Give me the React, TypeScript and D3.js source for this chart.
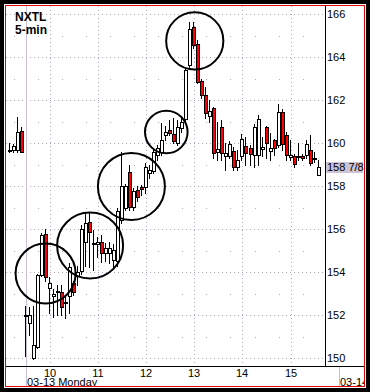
import { useEffect, useRef } from "react"
import * as d3 from "d3"

// 5-minute bars, slot 0 = 03-13 09:30, negative slots = previous session
const firstSlot = -4

const opens = [
  159.67, 159.67, 159.67, 160.56,
  152.0, 151.63, 150.0, 150.51, 153.86, 155.77, 153.26, 152.9, 153.05, 153.07,
  152.62, 152.9, 153.5, 153.81, 154.05, 155.4, 156.34, 155.3, 155.29, 155.41,
  154.9, 154.87, 154.56, 154.5, 156.4, 157.0, 158.67, 157.02, 157.8, 157.97,
  157.97, 158.59, 158.71, 159.44, 159.6, 160.37, 160.6, 160.42, 159.98, 160.7,
  161.12, 163.63, 165.41, 164.59, 162.88, 162.23, 161.27, 161.61, 159.6, 160.76,
  159.4, 159.4, 159.64, 158.87, 159.4, 159.85, 159.75, 159.44, 159.44, 159.7,
  160.73, 159.64, 160.14, 159.9, 161.46, 160.37, 159.36, 159.4, 159.34, 159.4,
  159.44, 159.67, 159.28, 158.51,
]
const highs = [
  159.98, 159.95, 161.2, 160.76,
  152.4, 152.35, 152.4, 153.9, 155.8, 156.0, 153.77, 153.2, 153.4, 153.4,
  152.83, 154.42, 153.6, 154.3, 156.2, 156.8, 156.76, 155.95, 155.64, 155.72,
  155.35, 155.4, 155.3, 157.0, 159.6, 158.1, 158.98, 157.9, 158.0, 158.05,
  159.05, 158.98, 159.77, 159.9, 160.93, 160.8, 161.07, 161.15, 161.07, 161.2,
  163.5, 165.64, 165.64, 164.79, 163.0, 162.6, 162.0, 161.69, 161.0, 161.07,
  160.0, 160.1, 159.8, 159.67, 160.4, 160.3, 159.9, 160.9, 161.3, 160.3,
  160.8, 160.47, 160.2, 161.81, 161.6, 160.5, 160.14, 159.5, 160.0, 159.5,
  160.14, 160.37, 159.58, 159.2,
]
const lows = [
  159.6, 159.6, 159.6, 159.58,
  150.1, 151.07, 149.95, 150.45, 153.8, 153.6, 152.1, 151.9, 152.0, 152.0,
  151.86, 152.1, 152.95, 153.4, 153.9, 154.3, 154.25, 154.1, 154.71, 154.47,
  154.5, 154.4, 154.2, 154.3, 156.3, 156.9, 156.88, 156.9, 157.3, 157.6,
  157.66, 158.37, 158.6, 159.2, 159.44, 160.14, 160.37, 159.98, 159.9, 160.5,
  161.0, 163.5, 164.4, 162.8, 162.1, 161.16, 160.98, 159.3, 159.2, 159.2,
  158.74, 159.3, 158.74, 158.74, 159.2, 159.0, 159.0, 158.9, 159.0, 159.4,
  159.3, 159.2, 159.44, 159.8, 159.67, 159.2, 159.2, 158.9, 159.2, 159.2,
  159.3, 158.98, 159.1, 158.51,
]
const closes = [
  159.67, 159.87, 160.53, 159.6,
  151.95, 152.0, 150.6, 153.86, 155.72, 153.77, 153.49, 153.0, 153.1, 152.37,
  152.6, 154.24, 153.07, 154.0, 156.0, 156.3, 155.87, 155.35, 155.41, 154.9,
  155.1, 155.1, 155.02, 156.85, 158.0, 158.0, 157.04, 157.77, 157.47, 157.85,
  158.9, 158.74, 159.6, 159.75, 160.14, 160.53, 160.48, 160.1, 160.76, 161.0,
  163.4, 165.29, 164.56, 162.85, 162.23, 161.4, 161.49, 159.53, 159.7, 159.52,
  159.55, 159.95, 158.87, 159.2, 160.17, 159.55, 159.49, 160.76, 161.1, 159.8,
  159.98, 159.75, 159.75, 161.46, 159.95, 159.44, 159.44, 159.02, 159.4, 159.29,
  159.95, 159.05, 159.3, 158.875,
]

const priceTicks = [150, 152, 154, 156, 158, 160, 162, 164, 166]
const hourSlots = [6, 18, 30, 42, 54, 66]
const hourLabels = ["10", "11", "12", "13", "14", "15"]
const sessionSlots = [0, 78]
const sessionLabels = ["03-13 Monday", "03-14"]

// hand-drawn annotation circles (slot, price, radius px)
const circleSlots = [4.9, 16.0, 26.3, 35.0, 42.1]
const circlePrices = [153.93, 155.23, 157.98, 160.51, 164.75]
const circleRadii = [30, 33, 33.5, 21.3, 28.6]

const symbol = "NXTL"
const interval = "5-min"

function fraction8(v: number) {
  const whole = Math.floor(v)
  const eighths = Math.round((v - whole) * 8)
  if (eighths === 0) return `${whole}`
  const g = eighths % 4 === 0 ? 4 : eighths % 2 === 0 ? 2 : 1
  return `${whole} ${eighths / g}/${8 / g}`
}

export default function App() {
  const svgRef = useRef<SVGSVGElement>(null)

  useEffect(() => {
    if (!svgRef.current) return
    const svg = d3.select(svgRef.current)
    svg.selectAll("*").remove()

    const width = 370
    const height = 392
    const plot = { left: 6, top: 6, right: 325, bottom: 366 }
    const font = "'Liberation Sans', Arial, sans-serif"
    const gridColor = "#b3a6c6"
    const sepColor = "#c9bfd8"

    const x = d3.scaleLinear().domain([6, 66]).range([50, 290.6])
    const y = d3.scaleLinear().domain([150, 166]).range([358, 14])
    const px = (s: number) => Math.round(x(s))
    const py = (p: number) => Math.round(y(p))

    svg.attr("width", width).attr("height", height)
    svg.append("rect").attr("width", width).attr("height", height).attr("fill", "#fff")

    const defs = svg.append("defs")
    defs
      .append("clipPath")
      .attr("id", "plotClip")
      .append("rect")
      .attr("x", plot.left)
      .attr("y", plot.top)
      .attr("width", plot.right - plot.left)
      .attr("height", plot.bottom - plot.top)
    defs
      .append("clipPath")
      .attr("id", "axisClip")
      .append("rect")
      .attr("x", plot.left)
      .attr("y", plot.bottom)
      .attr("width", 364 - plot.left)
      .attr("height", 386 - plot.bottom)

    // Grid
    const grid = svg.append("g")
    grid
      .selectAll("line.major")
      .data(priceTicks)
      .enter()
      .append("line")
      .attr("x1", plot.left)
      .attr("x2", plot.right)
      .attr("y1", (d) => py(d) + 0.5)
      .attr("y2", (d) => py(d) + 0.5)
      .attr("stroke", gridColor)
      .attr("stroke-dasharray", "1,3")

    const minorPrices = d3.range(151, 166, 2)
    const quarterSlots = d3.range(-9, 75).filter((s) => ((s % 12) + 12) % 12 === 3 || ((s % 12) + 12) % 12 === 9)
    const minorDots = minorPrices.flatMap((p) => quarterSlots.map((s) => ({ s, p })))
    grid
      .selectAll("rect.minor")
      .data(minorDots.filter((d) => x(d.s) > plot.left && x(d.s) < plot.right))
      .enter()
      .append("rect")
      .attr("x", (d) => px(d.s))
      .attr("y", (d) => py(d.p))
      .attr("width", 1)
      .attr("height", 1)
      .attr("fill", gridColor)

    grid
      .selectAll("line.hour")
      .data(hourSlots)
      .enter()
      .append("line")
      .attr("x1", (d) => px(d) + 0.5)
      .attr("x2", (d) => px(d) + 0.5)
      .attr("y1", plot.top)
      .attr("y2", plot.bottom)
      .attr("stroke", gridColor)
      .attr("stroke-dasharray", "1,3")

    // Session separators
    svg
      .append("g")
      .selectAll("line")
      .data(sessionSlots)
      .enter()
      .append("line")
      .attr("x1", (d) => px(d) + 0.5)
      .attr("x2", (d) => px(d) + 0.5)
      .attr("y1", (d) => (x(d) < plot.right ? plot.top : plot.bottom))
      .attr("y2", 386)
      .attr("stroke", sepColor)

    // Candles
    const bars = opens.map((o, i) => ({
      slot: firstSlot + i,
      o,
      h: highs[i],
      l: lows[i],
      c: closes[i],
    }))
    const candles = svg.append("g").attr("clip-path", "url(#plotClip)")
    candles
      .selectAll("line")
      .data(bars)
      .enter()
      .append("line")
      .attr("x1", (d) => px(d.slot) - 0.5)
      .attr("x2", (d) => px(d.slot) - 0.5)
      .attr("y1", (d) => py(d.h))
      .attr("y2", (d) => py(d.l) + 1)
      .attr("stroke", "#000")
    candles
      .selectAll("rect")
      .data(bars)
      .enter()
      .append("rect")
      .attr("x", (d) => px(d.slot) - 1.5)
      .attr("y", (d) => py(Math.max(d.o, d.c)) + 0.5)
      .attr("width", 3)
      .attr("height", (d) => Math.max(1, py(Math.min(d.o, d.c)) - py(Math.max(d.o, d.c))))
      .attr("fill", (d) => (d.c < d.o ? "#ff0000" : "#ffffff"))
      .attr("stroke", "#000")

    // Annotation circles
    svg
      .append("g")
      .selectAll("circle")
      .data(circleSlots.map((s, i) => ({ s, p: circlePrices[i], r: circleRadii[i] })))
      .enter()
      .append("circle")
      .attr("cx", (d) => x(d.s))
      .attr("cy", (d) => y(d.p))
      .attr("r", (d) => d.r)
      .attr("fill", "none")
      .attr("stroke", "#000")
      .attr("stroke-width", 2)

    // Axes
    svg
      .append("line")
      .attr("x1", plot.right + 0.5)
      .attr("x2", plot.right + 0.5)
      .attr("y1", plot.top)
      .attr("y2", plot.bottom)
      .attr("stroke", "#000")
    svg
      .append("line")
      .attr("x1", plot.left)
      .attr("x2", 364)
      .attr("y1", plot.bottom + 0.5)
      .attr("y2", plot.bottom + 0.5)
      .attr("stroke", "#000")

    svg
      .append("g")
      .selectAll("text")
      .data(priceTicks)
      .enter()
      .append("text")
      .attr("x", plot.right + 2)
      .attr("y", (d) => py(d) + 4)
      .attr("font-family", font)
      .attr("font-size", "11px")
      .attr("fill", "#000")
      .text((d) => d)

    // Last price marker
    const last = closes[closes.length - 1]
    svg
      .append("rect")
      .attr("x", plot.right + 1)
      .attr("y", py(last) - 5)
      .attr("width", 363 - plot.right - 1)
      .attr("height", 11)
      .attr("fill", "#cbc3d6")
    svg
      .append("text")
      .attr("x", plot.right + 2)
      .attr("y", py(last) + 4)
      .attr("font-family", font)
      .attr("font-size", "11px")
      .attr("fill", "#000")
      .text(fraction8(last))

    const axisText = svg.append("g").attr("clip-path", "url(#axisClip)")
    axisText
      .selectAll("text.hour")
      .data(hourSlots)
      .enter()
      .append("text")
      .attr("x", (d) => px(d))
      .attr("y", 377)
      .attr("text-anchor", "middle")
      .attr("font-family", font)
      .attr("font-size", "11px")
      .attr("fill", "#000")
      .text((d, i) => hourLabels[i])
    axisText
      .selectAll("text.session")
      .data(sessionSlots)
      .enter()
      .append("text")
      .attr("x", (d) => px(d) + 1)
      .attr("y", 386)
      .attr("font-family", font)
      .attr("font-size", "11px")
      .attr("fill", "#000")
      .text((d, i) => sessionLabels[i])

    // Title
    svg
      .append("text")
      .attr("x", 15)
      .attr("y", 21)
      .attr("font-family", font)
      .attr("font-size", "12px")
      .attr("font-weight", "bold")
      .text(symbol)
    svg
      .append("text")
      .attr("x", 15)
      .attr("y", 34)
      .attr("font-family", font)
      .attr("font-size", "12px")
      .attr("font-weight", "bold")
      .text(interval)

    // Frame
    svg
      .append("path")
      .attr("d", `M0,0H${width}V${height}H0Z M4,4V388H366V4Z`)
      .attr("fill", "#000")
      .attr("fill-rule", "evenodd")
    svg
      .append("rect")
      .attr("x", 5.5)
      .attr("y", 5.5)
      .attr("width", 359)
      .attr("height", 381)
      .attr("fill", "none")
      .attr("stroke", "#e00000")
  }, [])

  return <svg ref={svgRef} style={{ position: "absolute", left: 0, top: 0 }} />
}
